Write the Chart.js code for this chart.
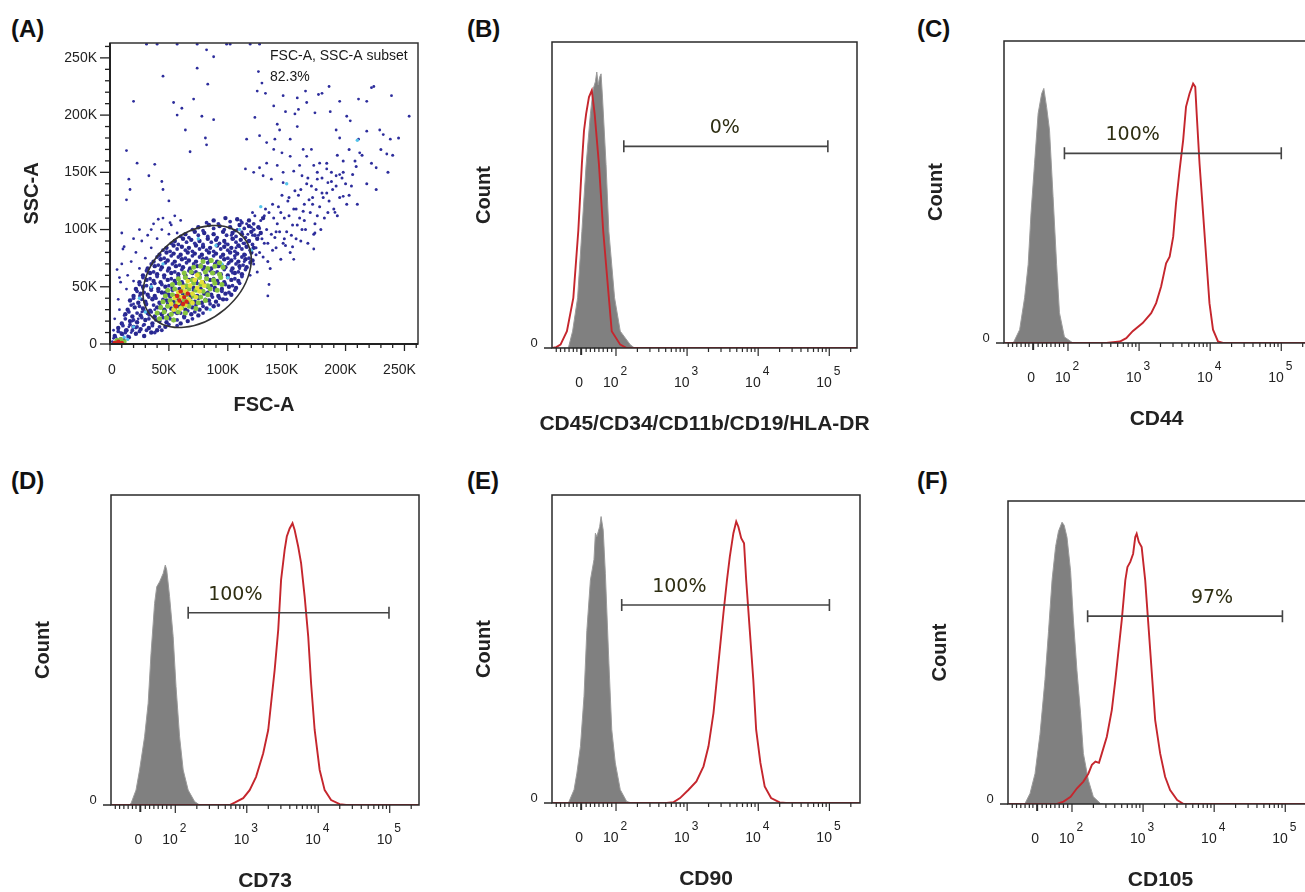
<!DOCTYPE html>
<html>
<head>
<meta charset="utf-8">
<script src="https://cdn.jsdelivr.net/npm/chart.js@4.4.1/dist/chart.umd.min.js"></script>
<style>
  body { margin: 0; width: 1305px; height: 892px; overflow: hidden; background: #fff; position: relative; }
  canvas { position: absolute; }
  .tag { position: absolute; font: bold 24px "Liberation Sans", Arial, sans-serif; line-height: 24px; color: #111; }
</style>
</head>
<body>
<div class="tag" style="left:11px;top:17px">(A)</div>
<div class="tag" style="left:467px;top:17px">(B)</div>
<div class="tag" style="left:917px;top:17px">(C)</div>
<div class="tag" style="left:11px;top:469px">(D)</div>
<div class="tag" style="left:467px;top:469px">(E)</div>
<div class="tag" style="left:917px;top:469px">(F)</div>

<canvas id="pA" width="435" height="445" style="left:0;top:0"></canvas>
<canvas id="pB" width="440" height="445" style="left:440px;top:0"></canvas>
<canvas id="pC" width="440" height="445" style="left:880px;top:0"></canvas>
<canvas id="pD" width="435" height="437" style="left:0;top:455px"></canvas>
<canvas id="pE" width="440" height="437" style="left:440px;top:455px"></canvas>
<canvas id="pF" width="440" height="437" style="left:880px;top:455px"></canvas>

<script>
// ---- panel A: FSC-A / SSC-A events, values in K ----
const redDots = [[56,33],[59,38],[62,35],[57,42],[63,41],[66,44],[60,46],[65,37],[4,1],[7,2],[10,1]];
const yellowDots = [[54,30],[60,31],[52,35],[58,36],[64,34],[70,36],[55,40],[61,41],[67,39],[73,41],
  [58,45],[64,46],[70,44],[76,46],[62,50],[68,51],[74,49],[80,51],[66,55],[72,56],[78,54],[74,60]];
const greenDots = [[42,22],[48,23],[54,21],[40,27],[46,28],[52,26],[58,28],[64,27],
  [43,32],[49,33],[55,31],[61,32],[67,33],[73,31],[45,37],[51,38],[57,36],[63,38],[69,37],[75,36],[81,38],
  [47,42],[53,43],[59,41],[65,43],[71,42],[77,41],[83,43],[49,47],[55,48],[61,46],[67,48],[73,47],[79,46],[85,48],[91,47],
  [53,52],[59,53],[65,51],[71,53],[77,52],[83,51],[89,53],[95,52],[58,57],[64,58],[70,56],[76,58],[82,57],[88,56],[94,58],
  [63,62],[69,63],[75,61],[81,63],[87,62],[93,61],[71,67],[77,68],[83,66],[89,68],[96,67],[79,72],[86,73],[93,71],
  [6,3],[9,4],[12,2]];
const cyanDots = [[30,28],[45,70],[90,86],[100,58],[110,100],[20,15],[75,92],[120,82],[35,50],[85,30],
  [128,120],[150,140],[210,178],[95,70],[25,40],[12,6],[15,4]];
const blueDense = [
  [4,7],[10,9],[16,6],[22,9],[29,7],[35,10],
  [7,14],[14,12],[20,15],[26,13],[33,14],[40,12],[47,15],
  [10,18],[17,20],[23,19],[30,21],[36,18],[42,20],[48,19],[54,21],[60,18],[66,20],
  [13,26],[19,24],[26,25],[32,27],[38,24],[44,26],[50,25],[57,27],[63,24],[69,26],[75,25],
  [15,30],[21,32],[28,31],[34,29],[40,32],[46,30],[52,31],[58,33],[64,30],[70,32],[76,30],[82,31],[88,33],
  [17,38],[24,36],[30,37],[36,39],[42,36],[48,38],[54,37],[60,36],[66,38],[72,37],[78,36],[84,38],[90,37],[96,39],
  [20,42],[26,44],[32,43],[38,42],[44,45],[50,43],[56,42],[62,44],[68,43],[74,42],[80,44],[86,43],[92,42],[98,44],[103,43],
  [22,48],[28,50],[35,49],[41,48],[47,50],[53,49],[59,48],[65,50],[71,49],[77,48],[83,50],[89,49],[95,48],[101,50],[107,49],
  [25,54],[31,56],[37,55],[43,54],[49,56],[55,55],[61,54],[67,56],[73,55],[79,54],[85,56],[91,55],[97,54],[103,56],[109,55],
  [28,60],[34,62],[40,61],[46,60],[52,62],[58,61],[64,60],[70,62],[76,61],[82,60],[88,62],[94,61],[100,60],[106,62],[112,61],
  [32,66],[38,68],[44,67],[50,66],[56,68],[62,67],[68,66],[74,68],[80,67],[86,66],[92,68],[98,67],[104,66],[110,68],[116,67],
  [37,72],[43,74],[49,73],[55,72],[61,74],[67,73],[73,72],[79,74],[85,73],[91,72],[97,74],[103,73],[109,72],[115,74],[121,73],
  [42,78],[48,80],[54,79],[60,78],[66,80],[72,79],[78,78],[84,80],[90,79],[96,78],[102,80],[108,79],[114,78],[120,80],
  [48,84],[54,86],[61,85],[67,84],[73,86],[79,85],[85,84],[91,86],[97,85],[103,84],[109,86],[116,85],[122,84],
  [55,90],[62,92],[69,91],[76,90],[83,92],[90,91],[97,90],[104,92],[111,91],[118,90],[125,92],
  [64,96],[72,98],[80,97],[88,96],[96,98],[104,97],[112,96],[120,98],[128,97],
  [75,102],[84,104],[93,103],[102,102],[110,104],[118,103],[126,102],
  [88,108],[98,110],[108,109],[118,108],[130,110]];
const blueDense2 = [
  [7,11],[13,10],[19,12],[25,11],[31,12],[38,10],[44,12],
  [11,16],[17,17],[23,15],[29,17],[36,16],[42,15],[50,17],[57,16],
  [13,22],[20,21],[27,23],[33,22],[39,21],[45,23],[51,22],[57,21],[63,23],[70,22],
  [16,28],[23,27],[29,29],[35,28],[41,27],[47,29],[54,28],[60,27],[66,29],[72,28],[79,27],
  [18,34],[25,33],[31,35],[37,34],[43,33],[49,35],[55,34],[61,33],[67,35],[73,34],[79,33],[85,35],[92,34],
  [20,40],[27,39],[33,41],[39,40],[45,39],[51,41],[57,40],[63,39],[69,41],[75,40],[81,39],[87,41],[93,40],[99,39],
  [23,46],[29,45],[35,47],[41,46],[47,45],[53,47],[59,46],[65,45],[71,47],[77,46],[83,45],[89,47],[95,46],[101,45],[106,47],
  [25,52],[31,51],[38,53],[44,52],[50,51],[56,53],[62,52],[68,51],[74,53],[80,52],[86,51],[92,53],[98,52],[104,51],[110,53],
  [28,58],[34,57],[40,59],[46,58],[52,57],[58,59],[64,58],[70,57],[76,59],[82,58],[88,57],[94,59],[100,58],[106,57],[112,59],
  [31,64],[37,63],[43,65],[49,64],[55,63],[61,65],[67,64],[73,63],[79,65],[85,64],[91,63],[97,65],[103,64],[109,63],[115,65],
  [35,70],[41,69],[47,71],[53,70],[59,69],[65,71],[71,70],[77,69],[83,71],[89,70],[95,69],[101,71],[107,70],[113,69],[119,71],
  [40,76],[46,75],[52,77],[58,76],[64,75],[70,77],[76,76],[82,75],[88,77],[94,76],[100,75],[106,77],[112,76],[118,75],
  [45,82],[51,81],[57,83],[64,82],[70,81],[76,83],[82,82],[88,81],[94,83],[100,82],[106,81],[112,83],[119,82],
  [52,88],[58,87],[65,89],[72,88],[79,87],[86,89],[93,88],[100,87],[107,89],[114,88],[121,87],
  [60,94],[67,93],[75,95],[83,94],[91,93],[99,95],[107,94],[115,93],[123,95],
  [70,100],[79,99],[88,101],[97,100],[106,99],[114,101],[122,100],
  [82,106],[92,105],[102,107],[112,106],[122,105]];
const blueBand = [[105,92],[110,85],[112,98],[115,78],[118,90],[120,102],[122,70],[124,84],[126,95],[128,108],
  [130,76],[131,88],[133,100],[135,115],[136,66],[138,82],[140,93],[142,105],[143,120],[145,74],[147,88],[148,110],
  [150,98],[151,125],[153,80],[155,104],[156,118],[158,92],[160,130],[161,110],[163,100],[165,122],[167,140],[168,88],
  [170,115],[172,128],[174,105],[175,135],[178,120],[180,145],[182,110],[184,132],[186,125],[188,150],[190,118],
  [192,138],[195,128],[198,160],[200,140],[203,130],[206,148],[210,122],[214,165],[218,140],[222,158],[226,135],
  [230,170],[236,150],[240,165],[245,180],
  [100,70],[102,80],[104,62],[106,75],[108,100],[110,66],[113,88],[116,105],[119,72],[121,95],[123,112],[125,63],
  [127,80],[129,92],[132,118],[134,72],[137,96],[139,110],[141,84],[144,98],[146,130],[149,86],[152,112],[154,95],
  [157,134],[159,104],[162,90],[164,116],[166,100],[169,126],[171,138],[173,96],[176,112],[179,100],[181,128],
  [185,115],[189,135],[193,112],[197,145],[201,122],[205,138],[209,155],
  [98,88],[103,95],[107,84],[111,108],[114,72],[117,96],[121,115],[124,78],[127,101],[131,112],[134,88],[138,122],
  [141,98],[145,115],[148,92],[152,128],[155,85],[158,118],[162,135],[165,108],[168,145],[172,122],[176,150],
  [180,132],[184,158],[188,142],[193,165],[198,150],[203,170],[208,160]];
const blueSparse = [
  [31,262],[40,262],[57,262],[74,262],[99,262],[102,262],[119,262],[127,262],
  [82,257],[88,251],[83,227],[74,241],[45,234],[20,212],[54,211],[61,206],[71,214],[78,199],[57,200],[88,196],
  [64,187],[81,180],[82,174],[68,168],[14,169],[23,158],[38,157],[33,147],[16,144],[17,135],[14,126],[44,142],
  [45,135],[50,125],[41,109],[51,106],[57,97],[35,100],[10,97],[11,83],[6,65],[9,54],[7,39],[4,22],[9,10],
  [126,238],[129,228],[125,221],[132,219],[147,217],[159,215],[177,218],[180,219],[186,225],[166,221],[211,214],
  [218,212],[222,224],[224,225],[239,217],[254,199],[139,208],[123,198],[149,203],[157,201],[167,211],[160,205],
  [174,202],[187,203],[195,212],[201,199],[204,195],[192,187],[195,180],[211,179],[218,186],[229,187],[232,183],
  [238,179],[226,154],[192,147],[184,153],[178,158],[173,156],[164,170],[153,179],[159,190],[144,187],[142,192],
  [140,179],[133,176],[127,182],[116,179],[139,170],[146,167],[153,164],[167,164],[171,170],[161,156],[156,151],
  [147,150],[142,156],[133,158],[127,154],[122,150],[115,153],[147,141],[137,144],[130,147],[163,147],[176,144],
  [185,141],[195,148],[235,166],[212,167],[198,129],[191,115],[174,97],[173,83],[156,74],[134,42],[135,52],[119,60],
  [2,2],[3,1],[5,2],[6,4],[3,5],[8,3],[5,6],[9,5],[11,8],[12,4],[13,12],[15,7],[16,15],[18,10],[19,20],[22,14],
  [24,22],[27,28],[28,16],[31,34],[33,25],[36,40],[38,30],[42,36],[46,44],[48,33],[16,28],[12,25],[20,35],[25,42],
  [10,18],[8,30],[28,48],[35,52],[3,12],
  [15,60],[18,72],[20,55],[22,80],[25,66],[27,90],[14,48],[30,75],[32,95],[35,84],[37,105],[40,92],[44,100],
  [45,110],[50,96],[52,104],[55,112],[60,108],[25,100],[20,92],[12,85],[10,70],[8,58]];

const gateCenter = [74, 59];   // K
const gateAxes = [51.5, 37.5]; // K
const gateAngle = 40;          // degrees
const scatterTicks = [0, 50, 100, 150, 200, 250];

// ---- histograms: [channel (decade position), count as % of panel height] ----
const isoB = [[1.10,0],[1.33,0],[1.39,5.5],[1.46,16.4],[1.52,38],[1.58,60],[1.64,76.5],[1.68,84.7],[1.71,87],[1.73,90.2],
  [1.75,86],[1.77,88.5],[1.79,89.6],[1.81,82],[1.86,60],[1.90,38],[1.98,16.4],[2.06,5.5],[2.20,1.1],[2.26,0],[5.45,0]];
const stainB = [[1.10,0],[1.16,0.3],[1.22,1.1],[1.31,5.5],[1.40,16.4],[1.47,38.3],[1.52,60.1],[1.55,71],[1.58,76.5],
  [1.62,82],[1.66,84.2],[1.70,76.5],[1.76,60.1],[1.82,38.3],[1.90,16.4],[1.94,5.5],[2.06,1.1],[2.15,0],[5.45,0]];
const isoC = [[1.10,0],[1.23,0],[1.32,4.4],[1.39,15],[1.44,26],[1.48,43],[1.53,59.5],[1.58,76],[1.63,82.6],[1.66,84.3],
  [1.70,78],[1.74,70.5],[1.79,48.5],[1.84,26],[1.88,10],[1.95,2],[2.07,0],[5.45,0]];
const stainC = [[1.10,0],[2.54,0],[2.73,0.5],[2.82,1.6],[2.91,3.9],[3.05,6.6],[3.17,9.9],[3.24,13.2],[3.31,18.7],
  [3.38,26.4],[3.43,28.6],[3.48,35.2],[3.52,46.3],[3.57,57.3],[3.62,67.2],[3.66,78.2],[3.71,82.6],[3.76,85.9],
  [3.79,84.8],[3.81,76],[3.85,59.5],[3.90,43],[3.95,26.4],[3.99,13.2],[4.04,4.4],[4.11,0.5],[4.18,0],[5.45,0]];
const isoD = [[1.10,0],[1.35,0],[1.38,0.5],[1.45,4.8],[1.50,11.3],[1.57,22],[1.62,32.8],[1.66,48.9],[1.71,65],[1.74,70.4],
  [1.78,72],[1.83,74.7],[1.86,77.4],[1.88,75.8],[1.92,67.2],[1.97,54.3],[2.01,38.2],[2.06,22],[2.11,11.3],[2.18,4.8],
  [2.27,1.1],[2.34,0],[5.45,0]];
const stainD = [[1.10,0],[2.76,0],[2.83,0.75],[2.95,2.2],[3.04,4.8],[3.13,9.1],[3.23,16.7],[3.30,24.2],[3.34,32.8],
  [3.39,43.5],[3.44,56.5],[3.48,72.6],[3.53,82.3],[3.56,86.6],[3.60,89.2],[3.64,90.9],[3.67,88.7],[3.72,83.3],[3.76,78],
  [3.81,67.2],[3.86,54.3],[3.90,39.2],[3.95,24.2],[4.02,11.3],[4.09,4.8],[4.18,1.6],[4.30,0.3],[4.39,0],[5.45,0]];
const isoE = [[1.10,0],[1.32,0],[1.34,0.5],[1.41,4.3],[1.45,9.7],[1.50,18.4],[1.55,34.6],[1.59,56],[1.64,72.4],[1.69,79],
  [1.71,87.6],[1.73,86.5],[1.77,89.7],[1.79,93],[1.82,88.6],[1.85,74.6],[1.90,45.4],[1.94,23.8],[1.99,13],[2.06,4.3],
  [2.15,0.5],[2.22,0],[5.45,0]];
const stainE = [[1.10,0],[2.71,0],[2.81,0.3],[2.90,1.6],[3.02,4.3],[3.13,7],[3.23,11.9],[3.30,18.4],[3.37,29.2],
  [3.44,45.4],[3.51,61.6],[3.56,72.4],[3.60,80],[3.65,87.6],[3.69,91.4],[3.72,89.7],[3.76,86],[3.80,84.3],[3.83,72.4],
  [3.88,56.2],[3.93,40],[3.97,23.8],[4.03,13],[4.09,5.4],[4.18,1.6],[4.30,0.2],[4.39,0],[5.45,0]];
const isoF = [[1.10,0],[1.32,0],[1.34,0.2],[1.41,3.5],[1.48,10],[1.55,23],[1.62,41],[1.67,57],[1.72,74],[1.77,85],
  [1.81,90],[1.86,93],[1.89,92],[1.93,88],[1.98,77],[2.02,60.7],[2.07,44],[2.12,30],[2.16,16.7],[2.23,7.9],
  [2.30,2.4],[2.40,0.2],[2.45,0],[5.45,0]];
const stainF = [[1.10,0],[1.79,0],[1.88,0.8],[1.98,2.4],[2.07,5.2],[2.16,7.4],[2.23,10],[2.28,12.9],[2.33,14],
  [2.38,13.6],[2.42,16.7],[2.49,22.2],[2.56,31],[2.61,40.9],[2.65,49.7],[2.70,60.7],[2.75,73.8],[2.78,78.2],[2.82,79.9],
  [2.86,82.6],[2.89,88.1],[2.91,89.2],[2.94,86.5],[2.98,84.8],[3.03,73.8],[3.08,57.4],[3.13,40.9],[3.17,27.7],
  [3.24,16.7],[3.31,9],[3.38,4.6],[3.48,1.3],[3.57,0],[5.45,0]];

const markers = ['CD45/CD34/CD11b/CD19/HLA-DR', 'CD44', 'CD73', 'CD90', 'CD105'];
const gateLow = [2.11, 1.95, 2.18, 2.08, 2.22];
const gateHigh = [4.98, 5.0, 4.99, 5.0, 4.96];
const gateLevel = [65.9, 62.8, 62.0, 64.3, 62.0];
const gatePct = ['0%', '100%', '100%', '100%', '97%'];
const gatePctAt = [3.53, 2.91, 2.84, 2.89, 3.97];

const decadeTicks = [2, 3, 4, 5];
const zeroTick = 1.51;
const linMinor = [1.16, 1.22, 1.28, 1.34, 1.40, 1.45, 1.58, 1.64, 1.70, 1.76, 1.82, 1.88, 1.94];

const SANS = '"Liberation Sans", Arial, sans-serif';
const pts = arr => arr.map(([x, y]) => ({x, y}));

// ---------- panel A ----------
const dotFrame = {
  id: 'dotFrame',
  afterDatasetsDraw(chart) {
    const {ctx, chartArea: a, scales: {x, y}} = chart;
    ctx.save();
    // gate
    const cx = x.getPixelForValue(gateCenter[0]), cy = y.getPixelForValue(gateCenter[1]);
    const rx = x.getPixelForValue(gateAxes[0]) - x.getPixelForValue(0);
    const ry = y.getPixelForValue(0) - y.getPixelForValue(gateAxes[1]);
    ctx.strokeStyle = '#333';
    ctx.lineWidth = 1.6;
    ctx.beginPath();
    ctx.ellipse(cx, cy, rx, ry, -gateAngle * Math.PI / 180, 0, 2 * Math.PI);
    ctx.stroke();

    // frame
    ctx.lineWidth = 1.5;
    ctx.strokeRect(a.left, a.top, a.right - a.left, a.bottom - a.top);
    ctx.strokeStyle = '#222';
    ctx.lineWidth = 2;
    ctx.beginPath();
    ctx.moveTo(a.left, a.top); ctx.lineTo(a.left, a.bottom); ctx.lineTo(a.right, a.bottom);
    ctx.stroke();

    // ticks
    ctx.lineWidth = 1.3;
    for (let v = 0; v <= 260; v += 10) {
      const big = v % 50 === 0;
      const py = y.getPixelForValue(v);
      ctx.beginPath(); ctx.moveTo(a.left - (big ? 10 : 5), py); ctx.lineTo(a.left, py); ctx.stroke();
      const px = x.getPixelForValue(v);
      ctx.beginPath(); ctx.moveTo(px, a.bottom); ctx.lineTo(px, a.bottom + (big ? 7 : 4)); ctx.stroke();
    }
    ctx.fillStyle = '#222';
    ctx.font = '14px ' + SANS;
    ctx.textBaseline = 'middle';
    scatterTicks.forEach(v => {
      const lab = v === 0 ? '0' : v + 'K';
      ctx.textAlign = 'right';
      ctx.fillText(lab, a.left - 13, y.getPixelForValue(v));
      ctx.textAlign = 'center';
      ctx.fillText(lab, x.getPixelForValue(v) + (v === 0 ? 2 : -5), a.bottom + 26);
    });

    // titles
    ctx.font = 'bold 20px ' + SANS;
    ctx.textAlign = 'center';
    ctx.fillText('FSC-A', (a.left + a.right) / 2, a.bottom + 61);
    ctx.translate(a.left - 78, (a.top + a.bottom) / 2);
    ctx.rotate(-Math.PI / 2);
    ctx.fillText('SSC-A', 0, 0);
    ctx.restore();

    ctx.save();
    ctx.fillStyle = '#1a1a1a';
    ctx.font = '14px ' + SANS;
    ctx.textBaseline = 'middle';
    ctx.fillText('FSC-A, SSC-A subset', a.left + 160, a.top + 13);
    ctx.fillText('82.3%', a.left + 160, a.top + 34);
    ctx.restore();
  }
};

const dotSet = (arr, color, r) => ({
  data: pts(arr), backgroundColor: color, borderColor: color,
  pointRadius: r, pointBorderWidth: 0, pointHoverRadius: r
});

new Chart('pA', {
  type: 'scatter',
  data: {
    datasets: [
      dotSet(redDots, '#d2261d', 2.2),
      dotSet(yellowDots, '#e4df37', 2.4),
      dotSet(greenDots, '#86c440', 2.5),
      dotSet(cyanDots, '#55c3ea', 1.7),
      dotSet(blueSparse, '#2d2d9c', 1.4),
      dotSet(blueBand, '#2d2d9c', 1.5),
      dotSet(blueDense2, '#2f2f9a', 1.9),
      dotSet(blueDense, '#27278e', 2.2)
    ]
  },
  options: {
    responsive: false, animation: false, events: [],
    layout: { padding: { left: 110, top: 43, right: 17, bottom: 101 } },
    plugins: { legend: { display: false }, tooltip: { enabled: false } },
    scales: {
      x: { type: 'linear', min: 0, max: 261.5, display: false },
      y: { type: 'linear', min: 0, max: 263, display: false }
    }
  },
  plugins: [dotFrame]
});

// ---------- histograms ----------
const flowAxis = {
  id: 'flowAxis',
  afterDatasetsDraw(chart, args, opts) {
    const {ctx, chartArea: a, scales: {x, y}} = chart;
    const i = opts.panel;
    ctx.save();
    ctx.strokeStyle = '#2a2a2a';
    ctx.lineWidth = 1.5;
    ctx.strokeRect(a.left, a.top, a.right - a.left, a.bottom - a.top);
    ctx.beginPath(); ctx.moveTo(a.left - 8, a.bottom); ctx.lineTo(a.left, a.bottom); ctx.stroke();

    // x ticks on the biexponential channel axis
    ctx.lineWidth = 1.2;
    const tick = (v, len) => {
      const px = x.getPixelForValue(v);
      if (px < a.left - 0.5 || px > a.right + 0.5) return;
      ctx.beginPath(); ctx.moveTo(px, a.bottom); ctx.lineTo(px, a.bottom + len); ctx.stroke();
    };
    linMinor.forEach(v => tick(v, 4));
    decadeTicks.forEach(d => {
      tick(d, 8);
      for (let k = 2; k <= 9; k++) tick(d + Math.log10(k), 4);
    });
    ctx.lineWidth = 2;
    tick(zeroTick, 7);

    ctx.fillStyle = '#222';
    ctx.textBaseline = 'middle';
    ctx.font = '13px ' + SANS;
    ctx.textAlign = 'center';
    ctx.fillText('0', a.left - 18, a.bottom - 5);
    ctx.font = '14px ' + SANS;
    ctx.fillText('0', x.getPixelForValue(zeroTick) - 2, a.bottom + 35);
    decadeTicks.forEach(d => {
      const px = x.getPixelForValue(d);
      ctx.font = '14px ' + SANS;
      ctx.textAlign = 'right';
      ctx.fillText('10', px + 2.5, a.bottom + 35);
      ctx.font = '12px ' + SANS;
      ctx.textAlign = 'left';
      ctx.fillText(String(d), px + 4.5, a.bottom + 24);
    });

    // axis titles
    ctx.textAlign = 'center';
    ctx.font = 'bold 21px ' + SANS;
    ctx.fillText(markers[i], (a.left + a.right) / 2, a.bottom + 76);
    ctx.save();
    ctx.translate(a.left - 68, (a.top + a.bottom) / 2);
    ctx.rotate(-Math.PI / 2);
    ctx.font = 'bold 20px ' + SANS;
    ctx.fillText('Count', 0, 0);
    ctx.restore();

    // marker gate
    const gy = y.getPixelForValue(gateLevel[i]);
    const g0 = x.getPixelForValue(gateLow[i]), g1 = x.getPixelForValue(gateHigh[i]);
    ctx.strokeStyle = '#444';
    ctx.lineWidth = 1.6;
    ctx.beginPath();
    ctx.moveTo(g0, gy); ctx.lineTo(g1, gy);
    ctx.moveTo(g0, gy - 6); ctx.lineTo(g0, gy + 6);
    ctx.moveTo(g1, gy - 6); ctx.lineTo(g1, gy + 6);
    ctx.stroke();
    ctx.fillStyle = '#2e2e12';
    ctx.font = '19px "DejaVu Sans", Verdana, sans-serif';
    ctx.fillText(gatePct[i], x.getPixelForValue(gatePctAt[i]), gy - 18);
    ctx.restore();
  }
};

function histPanel(id, panel, iso, stain, pad, xMax) {
  new Chart(id, {
    type: 'line',
    data: {
      datasets: [
        { data: pts(stain), borderColor: '#c5262d', borderWidth: 1.9, pointRadius: 0, tension: 0, fill: false },
        { data: pts(iso), borderColor: '#9a9a9a', borderWidth: 1, backgroundColor: '#808080',
          pointRadius: 0, tension: 0, fill: 'origin' }
      ]
    },
    options: {
      responsive: false, animation: false, events: [],
      layout: { padding: pad },
      plugins: { legend: { display: false }, tooltip: { enabled: false }, flowAxis: { panel } },
      scales: {
        x: { type: 'linear', min: 1.1, max: xMax, display: false },
        y: { type: 'linear', min: 0, max: 100, display: false }
      }
    },
    plugins: [flowAxis]
  });
}

histPanel('pB', 0, isoB, stainB, { left: 112, top: 42, right: 23, bottom: 97 }, 5.39);
histPanel('pC', 1, isoC, stainC, { left: 124, top: 41, right: 11, bottom: 102 }, 5.39);
histPanel('pD', 2, isoD, stainD, { left: 111, top: 40, right: 16, bottom: 87 }, 5.41);
histPanel('pE', 3, isoE, stainE, { left: 112, top: 40, right: 20, bottom: 89 }, 5.43);
histPanel('pF', 4, isoF, stainF, { left: 128, top: 46, right: 7, bottom: 88 }, 5.39);
</script>
</body>
</html>
